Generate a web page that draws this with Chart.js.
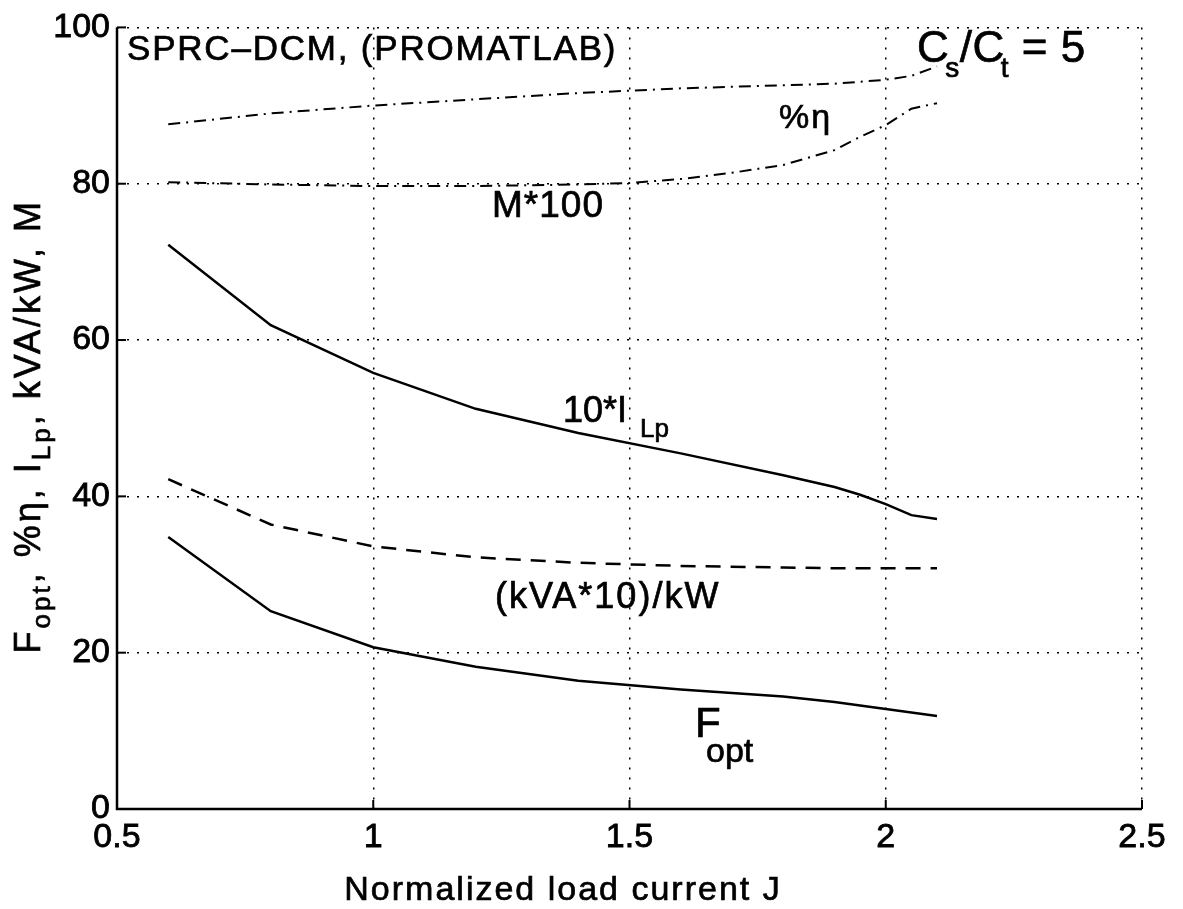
<!DOCTYPE html>
<html>
<head>
<meta charset="utf-8">
<title>SPRC-DCM</title>
<script src="https://cdn.jsdelivr.net/npm/chart.js"></script>
<style>
  html, body { margin: 0; padding: 0; background: #fff; }
  #chart { display: block; }
</style>
</head>
<body>
<canvas id="chart" width="1183" height="909"></canvas>
<script>
// values (x = normalized load current J)
const xTicks = [0.5, 1, 1.5, 2, 2.5];
const xTickLabels = ['0.5', '1', '1.5', '2', '2.5'];
const yTicks = [0, 20, 40, 60, 80, 100];
const yTickLabels = ['0', '20', '40', '60', '80', '100'];

const jFopt = [0.6, 0.8, 1.0, 1.2, 1.4, 1.6, 1.8, 1.9, 2.0, 2.1];
const fOpt = [34.8, 25.3, 20.7, 18.2, 16.4, 15.3, 14.4, 13.7, 12.8, 11.9];
const kvaPerKw = [42.2, 36.4, 33.6, 32.2, 31.5, 31.1, 30.9, 30.8, 30.8, 30.8];

const jIlp = [0.6, 0.8, 1.0, 1.2, 1.4, 1.6, 1.8, 1.9, 1.95, 2.0, 2.05, 2.1];
const iLp10 = [72.2, 61.9, 55.8, 51.2, 48.1, 45.5, 42.7, 41.2, 40.2, 39.0, 37.6, 37.1];

const jEta = [0.6, 0.8, 1.0, 1.2, 1.4, 1.6, 1.8, 1.9, 2.0, 2.05, 2.1];
const effPct = [87.6, 89.0, 90.0, 90.8, 91.6, 92.2, 92.6, 92.8, 93.3, 93.8, 95.0];

const jM = [0.6, 0.8, 1.0, 1.2, 1.4, 1.5, 1.6, 1.7, 1.8, 1.9, 1.95, 2.0, 2.05, 2.1];
const m100 = [80.2, 79.9, 79.7, 79.7, 79.9, 80.1, 80.6, 81.4, 82.4, 84.3, 86.0, 87.5, 89.6, 90.3];

const FONT = '"Liberation Sans", Arial, Helvetica, sans-serif';
Chart.defaults.font.family = FONT;
Chart.defaults.color = '#000';

function pts(xs, ys) {
  return xs.map((x, i) => ({ x: x, y: ys[i] }));
}

function lineSet(label, xs, ys, dash, width) {
  return {
    label: label,
    data: pts(xs, ys),
    borderColor: '#000',
    borderWidth: width,
    borderDash: dash,
    pointRadius: 0,
    tension: 0,
    fill: false
  };
}

// draw a run of text pieces (for subscripts); dx shifts a piece, dy lowers it
function drawParts(ctx, x, y, parts, center, spacing) {
  ctx.letterSpacing = (spacing || 0) + 'px';
  let total = 0;
  parts.forEach(p => {
    ctx.font = p.size + 'px ' + FONT;
    p.w = ctx.measureText(p.t).width + (p.dx || 0);
    total += p.w;
  });
  let cx = center ? x - total / 2 : x;
  ctx.lineWidth = 0.7;
  parts.forEach(p => {
    ctx.font = p.size + 'px ' + FONT;
    ctx.fillText(p.t, cx + (p.dx || 0), y + (p.dy || 0));
    ctx.strokeText(p.t, cx + (p.dx || 0), y + (p.dy || 0));
    cx += p.w;
  });
  ctx.letterSpacing = '0px';
}

const decorations = {
  id: 'decorations',
  afterDraw(chart) {
    const ctx = chart.ctx;
    const a = chart.chartArea;
    const xs = chart.scales.x, ys = chart.scales.y;
    ctx.save();
    ctx.fillStyle = '#000';
    ctx.strokeStyle = '#000';
    ctx.setLineDash([]);
    // solid left and bottom axis lines
    ctx.lineWidth = 2.5;
    ctx.beginPath();
    ctx.moveTo(a.left, a.top);
    ctx.lineTo(a.left, a.bottom);
    ctx.lineTo(a.right, a.bottom);
    ctx.stroke();
    // inward tick marks
    ctx.lineWidth = 2;
    xTicks.forEach(v => {
      const px = xs.getPixelForValue(v);
      ctx.beginPath(); ctx.moveTo(px, a.bottom); ctx.lineTo(px, a.bottom - 9); ctx.stroke();
    });
    yTicks.forEach(v => {
      const py = ys.getPixelForValue(v);
      ctx.beginPath(); ctx.moveTo(a.left, py); ctx.lineTo(a.left + 9, py); ctx.stroke();
    });

    ctx.textBaseline = 'alphabetic';
    ctx.textAlign = 'left';
    drawParts(ctx, 127, 60, [{ t: 'SPRC\u2013DCM, (PROMATLAB)', size: 35 }], false, 1.8);
    drawParts(ctx, 917, 62, [
      { t: 'C', size: 44 }, { t: 's', size: 28, dy: 15, dx: -4 },
      { t: '/', size: 44 }, { t: 'C', size: 44 }, { t: 't', size: 28, dy: 15, dx: -4 },
      { t: ' = 5', size: 44 }
    ], false, 0.5);
    drawParts(ctx, 779, 128, [{ t: '%\u03b7', size: 34 }], false, 2);
    drawParts(ctx, 492, 217, [{ t: 'M*100', size: 37 }], false, 1);
    drawParts(ctx, 563, 422, [{ t: '10*I', size: 36 }, { t: 'Lp', size: 26, dy: 15, dx: 13 }], false, 0);
    drawParts(ctx, 495, 608, [{ t: '(kVA*10)/kW', size: 36 }], false, 2);
    drawParts(ctx, 695, 737, [{ t: 'F', size: 42 }], false, 0);
    drawParts(ctx, 706, 762, [{ t: 'opt', size: 34 }], false, 0);

    // axis titles
    drawParts(ctx, 563, 900, [{ t: 'Normalized load current J', size: 34 }], true, 2);
    ctx.translate(40, (a.top + a.bottom) / 2 + 8);
    ctx.rotate(-Math.PI / 2);
    drawParts(ctx, 0, 0, [
      { t: 'F', size: 36 }, { t: 'opt', size: 26, dy: 10 },
      { t: ', %\u03b7, I', size: 36 }, { t: 'Lp', size: 26, dy: 10 },
      { t: ', kVA/kW, M', size: 36 }
    ], true, 3);
    ctx.restore();
  }
};

new Chart(document.getElementById('chart'), {
  type: 'line',
  data: {
    datasets: [
      lineSet('Fopt', jFopt, fOpt, [], 2.5),
      lineSet('(kVA*10)/kW', jFopt, kvaPerKw, [15, 10], 2.5),
      lineSet('10*ILp', jIlp, iLp10, [], 2.5),
      lineSet('%eta', jEta, effPct, [12, 6, 2, 6], 2),
      lineSet('M*100', jM, m100, [12, 6, 2, 6], 2)
    ]
  },
  options: {
    responsive: false,
    animation: false,
    devicePixelRatio: 1,
    layout: { padding: { left: 0, top: 21, right: 41, bottom: 0 } },
    plugins: { legend: { display: false }, tooltip: { enabled: false } },
    scales: {
      x: {
        type: 'linear',
        min: 0.5, max: 2.5,
        afterBuildTicks: s => { s.ticks = xTicks.map(v => ({ value: v })); },
        afterFit: s => { s.height = 100; },
        ticks: {
          autoSkip: false, maxRotation: 0, padding: 8,
          font: { size: 34 }, color: '#000',
          textStrokeColor: '#000', textStrokeWidth: 0.8,
          callback: (v) => xTickLabels[xTicks.indexOf(v)]
        },
        grid: { color: '#000', lineWidth: 1.5, drawTicks: false },
        border: { display: false, dash: [2, 8] }
      },
      y: {
        min: 0, max: 100,
        afterBuildTicks: s => { s.ticks = yTicks.map(v => ({ value: v })); },
        afterFit: s => { s.width = 117; },
        ticks: {
          autoSkip: false, padding: 7,
          font: { size: 34 }, color: '#000',
          textStrokeColor: '#000', textStrokeWidth: 0.8,
          callback: (v) => yTickLabels[yTicks.indexOf(v)]
        },
        grid: { color: '#000', lineWidth: 1.5, drawTicks: false },
        border: { display: false, dash: [2, 8] }
      }
    }
  },
  plugins: [decorations]
});
</script>
</body>
</html>
